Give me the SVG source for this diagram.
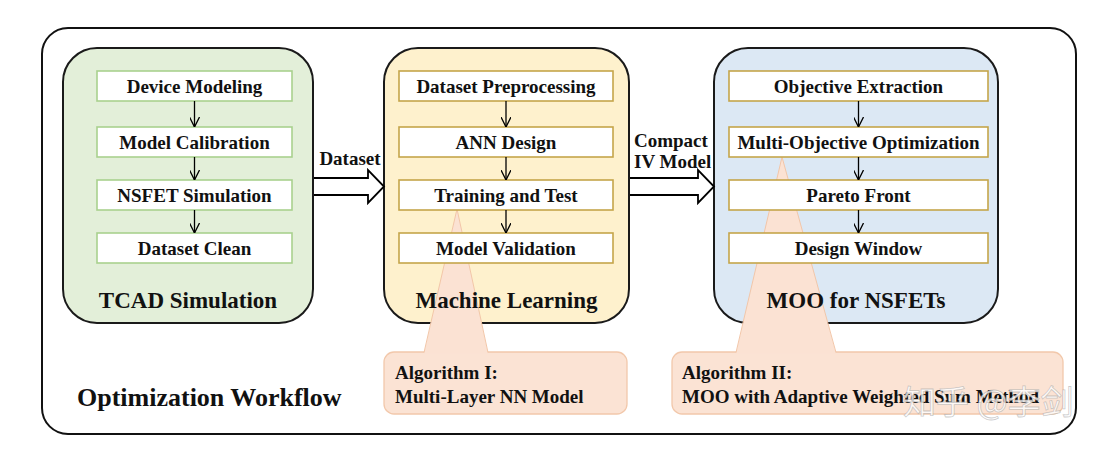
<svg xmlns="http://www.w3.org/2000/svg" width="1108" height="449" viewBox="0 0 1108 449">
<defs>
<marker id="v" viewBox="0 0 10 10" refX="10" refY="5" markerWidth="10" markerHeight="10" markerUnits="userSpaceOnUse" orient="auto">
<path d="M0,0 L10,5 L0,10" fill="none" stroke="#000" stroke-width="1.3"/>
</marker>
</defs>
<style>
text{font-family:"Liberation Serif","Times New Roman",serif;font-weight:bold;fill:#111;}
.b{font-size:19px;text-anchor:middle;}
.g{font-size:23px;text-anchor:middle;}
.l{font-size:19px;}
.grp{stroke:#1a1a1a;stroke-width:2;}
.ib{fill:#fff;stroke-width:1.6;}
.gr{stroke:#a9d18e;}
.yl{stroke:#c5a54a;}
.tri{fill:#fbe2d3;stroke:none;}
.tre{fill:none;stroke:#f2c6a8;stroke-width:1;}
.call{fill:#fbe3d4;stroke:#f2c8ab;stroke-width:1.3;}
.sa{stroke:#000;stroke-width:1.3;fill:none;marker-end:url(#v);}
.ba{fill:#fff;stroke:#000;stroke-width:1.8;stroke-linejoin:miter;}
</style>
<rect width="1108" height="449" fill="#fff"/>
<rect id="frame" x="42" y="28" width="1034" height="406" rx="26" fill="#fff" stroke="#111" stroke-width="2"/>

<g id="algo1">
<rect class="call" x="384" y="352" width="243" height="62" rx="10"/>
<text class="l" x="395" y="379">Algorithm I:</text>
<text class="l" x="395" y="403">Multi-Layer NN Model</text>
</g>

<g id="algo2">
<rect class="call" x="672" y="352" width="391" height="62" rx="10"/>
<text class="l" x="682" y="379">Algorithm II:</text>
<text class="l" x="682" y="403">MOO with Adaptive Weighted Sum Method</text>
</g>

<g id="tcad">
<rect class="grp" x="63" y="48" width="250" height="275" rx="34" fill="#e3efd9"/>
<rect class="ib gr" x="97" y="71" width="195" height="30"/>
<text class="b" x="194.5" y="92.5">Device Modeling</text>
<rect class="ib gr" x="97" y="127" width="195" height="30"/>
<text class="b" x="194.5" y="148.5">Model Calibration</text>
<rect class="ib gr" x="97" y="180" width="195" height="30"/>
<text class="b" x="194.5" y="201.5">NSFET Simulation</text>
<rect class="ib gr" x="97" y="233" width="195" height="30"/>
<text class="b" x="194.5" y="254.5">Dataset Clean</text>
<text class="g" x="188" y="308">TCAD Simulation</text>
</g>

<g id="ml">
<rect class="grp" x="384" y="48" width="245" height="275" rx="34" fill="#fef1cd"/>
<polygon class="tri" points="457,209 424,353.5 488,353.5"/>
<path class="tre" d="M424,352.5 L457,209 L488,352.5"/>
<rect class="ib yl" x="399" y="71" width="214" height="30"/>
<text class="b" x="506" y="92.5">Dataset Preprocessing</text>
<rect class="ib yl" x="399" y="127" width="214" height="30"/>
<text class="b" x="506" y="148.5">ANN Design</text>
<rect class="ib yl" x="399" y="180" width="214" height="30"/>
<text class="b" x="506" y="201.5">Training and Test</text>
<rect class="ib yl" x="399" y="233" width="214" height="30"/>
<text class="b" x="506" y="254.5">Model Validation</text>
<text class="g" x="506.5" y="308">Machine Learning</text>
</g>

<g id="moo">
<rect class="grp" x="714" y="48" width="284" height="275" rx="34" fill="#dce8f4"/>
<polygon class="tri" points="782,157 736,353.5 836,353.5"/>
<path class="tre" d="M736,352.5 L782,157 L836,352.5"/>
<rect class="ib yl" x="729" y="71" width="259" height="30"/>
<text class="b" x="858.5" y="92.5">Objective Extraction</text>
<rect class="ib yl" x="729" y="127" width="259" height="30"/>
<text class="b" x="858.5" y="148.5">Multi-Objective Optimization</text>
<rect class="ib yl" x="729" y="180" width="259" height="30"/>
<text class="b" x="858.5" y="201.5">Pareto Front</text>
<rect class="ib yl" x="729" y="233" width="259" height="30"/>
<text class="b" x="858.5" y="254.5">Design Window</text>
<text class="g" x="856" y="308">MOO for NSFETs</text>
</g>

<g id="connectors">
<line class="sa" x1="194.5" y1="101" x2="194.5" y2="127"/>
<line class="sa" x1="194.5" y1="157" x2="194.5" y2="180"/>
<line class="sa" x1="194.5" y1="210" x2="194.5" y2="233"/>
<line class="sa" x1="506" y1="101" x2="506" y2="127"/>
<line class="sa" x1="506" y1="157" x2="506" y2="180"/>
<line class="sa" x1="506" y1="210" x2="506" y2="233"/>
<line class="sa" x1="858.5" y1="101" x2="858.5" y2="127"/>
<line class="sa" x1="858.5" y1="157" x2="858.5" y2="180"/>
<line class="sa" x1="858.5" y1="210" x2="858.5" y2="233"/>
<path class="ba" d="M314,178 L368,178 L368,170 L384,186.5 L368,203 L368,195 L314,195"/>
<path class="ba" d="M630,178 L698,178 L698,170 L714,186.5 L698,203 L698,195 L630,195"/>
<text class="l" x="350" y="165" text-anchor="middle">Dataset</text>
<text class="l" x="634" y="147">Compact</text>
<text class="l" x="634" y="168">IV Model</text>
</g>

<text x="77" y="406" style="font-size:26px">Optimization Workflow</text>
<text x="903" y="414" style="font-family:'Noto Sans CJK SC',sans-serif;font-weight:normal;font-size:33px;fill:#fff;fill-opacity:0.8;stroke:#999;stroke-opacity:0.5;stroke-width:0.8">知乎 @李剑</text>
</svg>
